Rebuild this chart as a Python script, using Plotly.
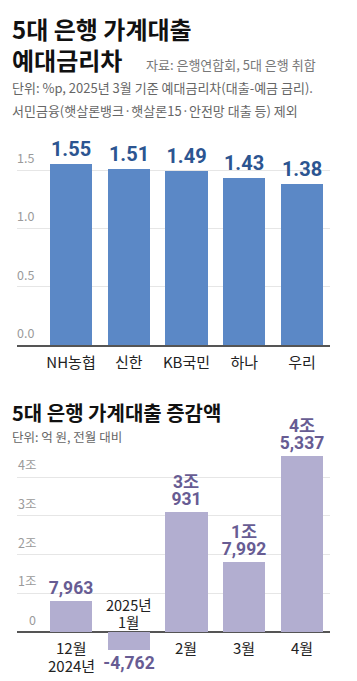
import plotly.graph_objects as go

# ---------------- data ----------------
banks = ["NH농협", "신한", "KB국민", "하나", "우리"]
spread = [1.55, 1.51, 1.49, 1.43, 1.38]
spread_ticks = [0.0, 0.5, 1.0, 1.5]
spread_ticktext = ["0.0", "0.5", "1.0", "1.5"]

months = ["12월", "1월", "2월", "3월", "4월"]
years = ["2024년", "2025년", "", "", ""]
change = [7963, -4762, 30931, 17992, 45337]   # 억 원
change_ticks = [0, 10000, 20000, 30000, 40000]
change_ticktext = ["0", "1조", "2조", "3조", "4조"]

# page has an 8px body margin: figure is drawn at (8, 8)
OFF = 8
W, H = 357 - OFF, 681 - OFF
def px(y):  # reference pixel row -> paper y
    return 1 - (y - OFF) / H
def pxx(x):
    return (x - OFF) / W

FONT = "Noto Sans CJK KR"
NUMFONT = "Roboto, Noto Sans CJK KR"

BLUE = "#5b88c6"
BLUE_TXT = "#2c5591"
LAV = "#b2aed0"
PURP_TXT = "#675c93"
GRID = "#e6e6e6"
AXIS = "#555555"
TICK = "#9a9a9a"

def low_part(v):
    a = abs(v)
    s = "-" if v < 0 else ""
    return f"{s}{a % 10000:,}"

def high_part(v):
    a = abs(v)
    return f"{a // 10000}조" if a >= 10000 else ""

xs = list(range(len(banks)))

fig = go.Figure()

fig.add_trace(go.Bar(
    x=xs, y=spread, width=0.73, marker=dict(color=BLUE, line=dict(width=0)),
    text=[f"{v:.2f}" for v in spread], textposition="outside",
    textfont=dict(family=NUMFONT, size=20, color=BLUE_TXT, weight=700),
    constraintext="none", cliponaxis=False, xaxis="x", yaxis="y",
    hoverinfo="skip",
))

fig.add_trace(go.Bar(
    x=xs, y=change, width=0.73, marker=dict(color=LAV, line=dict(width=0)),
    text=[low_part(v) for v in change], textposition="outside",
    textfont=dict(family=NUMFONT, size=17.5, color=PURP_TXT, weight=700),
    constraintext="none", cliponaxis=False, xaxis="x2", yaxis="y2",
    hoverinfo="skip",
))

xdom = [pxx(17), pxx(330)]
xr = [-0.935, 4.485]

fig.update_layout(
    width=W, height=H, margin=dict(l=0, r=0, t=0, b=0),
    paper_bgcolor="white", plot_bgcolor="white", showlegend=False,
    bargap=0,
    xaxis=dict(domain=xdom, range=xr, tickvals=xs, ticktext=banks,
               showgrid=False, showline=True, linecolor=AXIS, linewidth=1.5,
               ticks="", tickfont=dict(family=FONT, size=15, color="#222"),
               ticklabelstandoff=3, anchor="y", fixedrange=True),
    yaxis=dict(domain=[px(345), px(130)], range=[0, (345 - 130) / (175 / 1.5)],
               tickvals=spread_ticks, showticklabels=False, showgrid=True,
               gridcolor=GRID, gridwidth=1, zeroline=False, showline=False,
               anchor="x", fixedrange=True),
    xaxis2=dict(domain=xdom, range=xr, showticklabels=False, showgrid=False,
                showline=False, zeroline=False, anchor="y2", fixedrange=True),
    yaxis2=dict(domain=[px(655), px(450)],
                range=[-(655 - 632) / 38.75 * 10000, (632 - 450) / 38.75 * 10000],
                tickvals=change_ticks, showticklabels=False, showgrid=True,
                gridcolor=GRID, gridwidth=1, zeroline=True, zerolinecolor=AXIS,
                zerolinewidth=1.5, showline=False, anchor="x2", fixedrange=True),
)

ann = []
def txt(t, x, y, size, color, weight=400, xanchor="left"):
    ann.append(dict(text=t, x=pxx(x), y=px(y), xref="paper", yref="paper",
                    xanchor=xanchor, yanchor="middle", showarrow=False,
                    font=dict(family=FONT, size=size, color=color, weight=weight)))

# titles and notes
txt("5대 은행 가계대출", 10, 28, 24, "#111", 700)
txt("예대금리차", 10, 60, 24, "#111", 700)
txt("자료: 은행연합회, 5대 은행 취합", 144, 64, 13, "#777")
txt("단위: %p, 2025년 3월 기준 예대금리차(대출-예금 금리).", 10, 87, 13, "#666")
txt("서민금융(햇살론뱅크·햇살론15·안전망 대출 등) 제외", 10, 110, 13, "#666")
txt("5대 은행 가계대출 증감액", 10, 412, 20, "#111", 700)
txt("단위: 억 원, 전월 대비", 10, 437, 12.5, "#666")

# y tick labels (above gridlines, right-aligned)
for v, t in zip(spread_ticks, spread_ticktext):
    ann.append(dict(text=t, x=pxx(36), y=v, xref="paper", yref="y",
                    xanchor="right", yanchor="bottom", yshift=1, showarrow=False,
                    font=dict(family=FONT, size=12.5, color=TICK)))
for v, t in zip(change_ticks, change_ticktext):
    ann.append(dict(text=t, x=pxx(38), y=v, xref="paper", yref="y2",
                    xanchor="right", yanchor="bottom", yshift=1, showarrow=False,
                    font=dict(family=FONT, size=12.5, color=TICK)))

# "N조" upper line of the value labels
for i, v in enumerate(change):
    h = high_part(v)
    if h:
        ann.append(dict(text=h, x=i, y=v, xref="x2", yref="y2", xanchor="center",
                        yanchor="middle", yshift=30, showarrow=False,
                        font=dict(family=NUMFONT, size=17.5, color=PURP_TXT, weight=700)))

# month labels
for i, (m, yr, v) in enumerate(zip(months, years, change)):
    f = dict(family=FONT, size=15, color="#222")
    if v < 0:
        ann.append(dict(text=yr, x=i, y=0, xref="x2", yref="y2", xanchor="center",
                        yanchor="middle", yshift=28, showarrow=False,
                        font=dict(family=FONT, size=14.5, color="#222")))
        ann.append(dict(text=m, x=i, y=0, xref="x2", yref="y2", xanchor="center",
                        yanchor="middle", yshift=11, showarrow=False,
                        font=dict(family=FONT, size=14.5, color="#222")))
    else:
        ann.append(dict(text=m, x=i, y=0, xref="x2", yref="y2", xanchor="center",
                        yanchor="middle", yshift=-15, showarrow=False, font=f))
        if yr:
            ann.append(dict(text=yr, x=i, y=0, xref="x2", yref="y2", xanchor="center",
                            yanchor="middle", yshift=-33, showarrow=False, font=f))

fig.update_layout(annotations=ann)

# right border line
fig.add_shape(type="line", xref="paper", yref="paper", x0=pxx(354), x1=pxx(354),
              y0=0, y1=1, line=dict(color="#222", width=2.5))

fig.write_html("out.html")
